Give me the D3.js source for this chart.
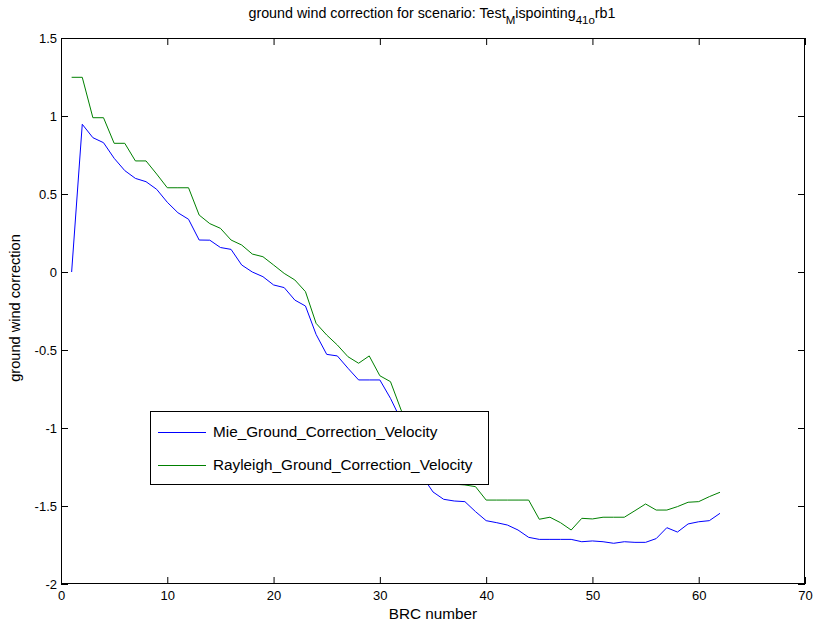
<!DOCTYPE html>
<html><head><meta charset="utf-8">
<script src="https://cdn.jsdelivr.net/npm/d3@7"></script>
<style>body{margin:0;background:#fff}svg{display:block}text{font-family:"Liberation Sans",Arial,sans-serif}</style>
</head><body><svg id="c" width="813" height="625"></svg>
<script>
const brc = d3.range(1, 63);
const mieValues = [0.0,0.947,0.861,0.829,0.729,0.65,0.60,0.579,0.53,0.447,0.38,0.338,0.205,0.204,0.157,0.145,0.045,0.0,
 -0.03,-0.083,-0.10,-0.18,-0.218,-0.40,-0.528,-0.538,-0.617,-0.692,-0.692,-0.692,-0.81,-0.95,-1.12,-1.31,-1.41,-1.457,
 -1.468,-1.472,-1.536,-1.594,-1.607,-1.622,-1.654,-1.701,-1.714,-1.714,-1.714,-1.714,-1.729,-1.724,-1.729,-1.739,-1.729,
 -1.733,-1.733,-1.709,-1.639,-1.667,-1.615,-1.601,-1.594,-1.547];
const rayleighValues = [1.248,1.248,0.989,0.989,0.825,0.825,0.712,0.712,0.628,0.54,0.54,0.54,0.365,0.31,0.28,0.205,0.173,0.115,
 0.098,0.045,-0.009,-0.051,-0.126,-0.329,-0.404,-0.468,-0.543,-0.585,-0.538,-0.665,-0.703,-0.885,-1.02,-1.15,-1.25,-1.32,
 -1.36,-1.365,-1.376,-1.462,-1.462,-1.462,-1.462,-1.462,-1.585,-1.572,-1.607,-1.654,-1.579,-1.583,-1.572,-1.572,-1.572,
 -1.530,-1.487,-1.526,-1.526,-1.504,-1.476,-1.472,-1.44,-1.412];
const xTicks = [0,10,20,30,40,50,60,70];
const yTicks = [-2,-1.5,-1,-0.5,0,0.5,1,1.5];
const seriesNames = ["Mie_Ground_Correction_Velocity","Rayleigh_Ground_Correction_Velocity"];
const seriesColors = ["#0000ff","#008000"];

const svg = d3.select("#c");
const L=61, T=38, R=805, B=584;
const x = d3.scaleLinear().domain([0,70]).range([L,R]);
const y = d3.scaleLinear().domain([-2,1.5]).range([B,T]);
const tk = 7;

const g = svg.append("g");
const axB = d3.axisBottom(x).tickValues(xTicks).tickSize(-tk).tickPadding(7).tickFormat(d3.format("d"));
const axT = d3.axisTop(x).tickValues(xTicks).tickSize(-tk).tickFormat("");
const axL = d3.axisLeft(y).tickValues(yTicks).tickSize(-tk).tickPadding(4).tickFormat(d=>String(d));
const axR = d3.axisRight(y).tickValues(yTicks).tickSize(-tk).tickFormat("");
function style(sel){sel.select(".domain").remove();sel.selectAll("line").attr("stroke","#000");sel.selectAll("text").attr("font-size",13).attr("fill","#000").attr("font-family","Liberation Sans, Arial, sans-serif");}
g.append("g").attr("transform",`translate(0,${B})`).call(axB).call(style);
g.append("g").attr("transform",`translate(0,${T})`).call(axT).call(style);
g.append("g").attr("transform",`translate(${L},0)`).call(axL).call(style);
g.append("g").attr("transform",`translate(${R},0)`).call(axR).call(style);

const line = d3.line().x((d,i)=>x(brc[i])).y(d=>y(d));
[mieValues, rayleighValues].forEach((vals,k)=>{
  svg.append("path").datum(vals).attr("d",line).attr("fill","none").attr("stroke",seriesColors[k]).attr("stroke-width",1);
});
svg.append("rect").attr("x",L+0.5).attr("y",T+0.5).attr("width",R-L-1).attr("height",B-T-1).attr("fill","none").attr("stroke","#000");

const lg = svg.append("g");
lg.append("rect").attr("x",150.5).attr("y",411.5).attr("width",338).attr("height",73).attr("fill","#fff").attr("stroke","#000");
seriesNames.forEach((n,k)=>{
  const yy = 432 + k*33;
  lg.append("line").attr("x1",158).attr("x2",206).attr("y1",yy+0.5).attr("y2",yy+0.5).attr("stroke",seriesColors[k]);
  lg.append("text").attr("x",213).attr("y",yy+5).attr("font-size",15.3).text(n);
});

svg.append("text").attr("x",433).attr("y",619).attr("text-anchor","middle").attr("font-size",15.3).text("BRC number");
svg.append("text").attr("transform","translate(20,308) rotate(-90)").attr("text-anchor","middle").attr("font-size",14.6).text("ground wind correction");
const t = svg.append("text").attr("x",432).attr("y",18).attr("text-anchor","middle").attr("font-size",14.3);
t.append("tspan").text("ground wind correction for scenario: Test");
t.append("tspan").attr("dy",6).attr("font-size",11.5).text("M");
t.append("tspan").attr("dy",-6).text("ispointing");
t.append("tspan").attr("dy",6).attr("font-size",11.5).text("41o");
t.append("tspan").attr("dy",-6).text("rb1");
</script></body></html>
